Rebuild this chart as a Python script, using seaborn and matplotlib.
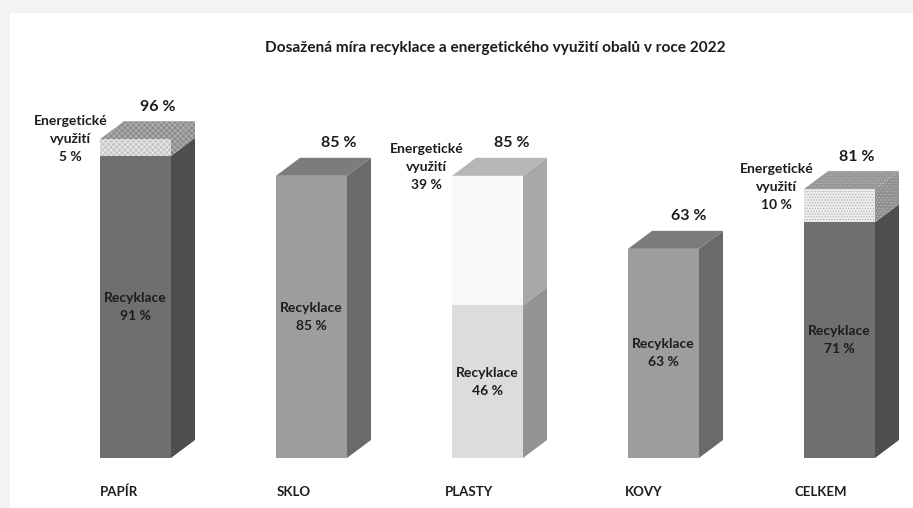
import matplotlib
matplotlib.use("Agg")
import matplotlib.pyplot as plt
import seaborn as sns
from matplotlib.patches import Polygon, Rectangle
from matplotlib.transforms import ScaledTranslation

# --- data ---
categories = ["PAPÍR", "SKLO", "PLASTY", "KOVY", "CELKEM"]
recycling = [91, 85, 46, 63, 71]
energy = [5, 0, 39, 0, 10]
totals = [96, 85, 85, 63, 81]
title = "Dosažená míra recyklace a energetického využití obalů v roce 2022"

# --- style ---
rec_front = ["#6f6f6f", "#9d9d9d", "#dcdcdc", "#9d9d9d", "#6f6f6f"]
rec_side = ["#4e4e4e", "#6a6a6a", "#949494", "#6a6a6a", "#4e4e4e"]
en_front = ["#c6c6c6", "#9d9d9d", "#f8f8f8", "#9d9d9d", "#ececec"]
en_side = ["#8a8a8a", "#6a6a6a", "#a8a8a8", "#6a6a6a", "#8f8f8f"]
top_col = ["#8c8c8c", "#7c7c7c", "#b6b6b6", "#7c7c7c", "#969696"]
en_hatch = ["xxxxxx", None, None, None, "......"]
en_hatch_col = ["#f2f2f2", None, None, None, "#b0b0b0"]
total_dx = [22, 27, 24, 25, 17]       # px offset of the total label
en_dx = [-65, 0, -61, 0, -63]         # px offset of the energy label
en_dy = [0, 0, 9, 0, 2]
tick_dx = [-17, -18, -19, -20, -19]

W, H = 913, 508
BASE_PX, FIRST_PX, STEP_PX, BAR_PX = 458, 135.5, 176, 71
PX_PER_PCT = 3.32
DEPTH_X_PX, DEPTH_Y_PX = 24, 18
TXT = "#1c1c1c"

sns.set_theme(style="white")
plt.rcParams["font.family"] = ["Lato", "DejaVu Sans"]
plt.rcParams["hatch.linewidth"] = 0.5

fig = plt.figure(figsize=(W / 100, H / 100), dpi=100, facecolor="#f3f3f3")
fig.add_artist(Rectangle((10 / W, 0), 1 - 10 / W, 1 - 13 / H, transform=fig.transFigure,
                         fc="white", ec="none", zorder=-5))
ax = fig.add_axes([0, (H - BASE_PX) / H, 1, BASE_PX / H])
ax.patch.set_alpha(0)

# totals first (energy colour), recycling drawn over them
sns.barplot(x=categories, y=totals, hue=categories, palette=en_front, legend=False,
            width=BAR_PX / STEP_PX, ax=ax, linewidth=0, saturation=1, zorder=2)
sns.barplot(x=categories, y=recycling, hue=categories, palette=rec_front, legend=False,
            width=BAR_PX / STEP_PX, ax=ax, linewidth=0, saturation=1, zorder=3)

ax.set_xlim(-FIRST_PX / STEP_PX, (W - FIRST_PX) / STEP_PX)
ax.set_ylim(0, BASE_PX / PX_PER_PCT)
sns.despine(ax=ax, left=True, bottom=True, top=True, right=True)
ax.set_yticks([])

dx = DEPTH_X_PX / STEP_PX
dy = DEPTH_Y_PX / PX_PER_PCT
half = BAR_PX / STEP_PX / 2


def poly(pts, fc, hatch=None, edge="none"):
    ax.add_patch(Polygon(pts, closed=True, fc=fc, ec=edge, lw=0, hatch=hatch, zorder=1,
                         clip_on=False))


for i, (r, e, t) in enumerate(zip(recycling, energy, totals)):
    xr = i + half
    xl = i - half
    poly([(xr, 0), (xr + dx, dy), (xr + dx, r + dy), (xr, r)], rec_side[i])
    hatch = en_hatch[i]
    edge = "#b9b9b9" if hatch else "none"
    if e:
        poly([(xr, r), (xr + dx, r + dy), (xr + dx, t + dy), (xr, t)], en_side[i], hatch, edge)
    poly([(xl, t), (xl + dx, t + dy), (xr + dx, t + dy), (xr, t)], top_col[i], hatch, edge)

for i, e in enumerate(energy):
    bar = ax.patches[i]
    if e and en_hatch[i]:
        bar.set_hatch(en_hatch[i])
        bar.set_edgecolor(en_hatch_col[i])
        bar.set_linewidth(0)

# x category labels as real tick labels
ax.set_xticks(range(len(categories)), categories)
ax.tick_params(axis="x", length=0, pad=20, labelsize=9.5, colors=TXT)
for i, lab in enumerate(ax.get_xticklabels()):
    lab.set_fontweight("bold")
    lab.set_transform(lab.get_transform() +
                      ScaledTranslation(tick_dx[i] / 100, 0, fig.dpi_scale_trans))

# data labels
for i, (r, e, t) in enumerate(zip(recycling, energy, totals)):
    ax.annotate(f"Recyklace\n{r} %", (i, r / 2), ha="center", va="center", fontsize=10,
                fontweight="bold", color=TXT, linespacing=1.6, zorder=5)
    ax.annotate(f"{t} %", (i, t), xytext=(total_dx[i] * 0.72, 32.5 * 0.72),
                textcoords="offset points", ha="center", va="center", fontsize=11.5,
                fontweight="bold", color=TXT, zorder=5)
    if e:
        ax.annotate(f"Energetické\nvyužití\n{e} %", (i, t),
                    xytext=(en_dx[i] * 0.72, en_dy[i] * 0.72),
                    textcoords="offset points", ha="center", va="center", fontsize=10,
                    fontweight="bold", color=TXT, linespacing=1.6, zorder=5)

fig.suptitle(title, x=495 / W, y=1 - 48 / H, ha="center", va="center", fontsize=11.1,
             fontweight="bold", color=TXT)

fig.savefig("out.png", dpi=100, facecolor=fig.get_facecolor())
